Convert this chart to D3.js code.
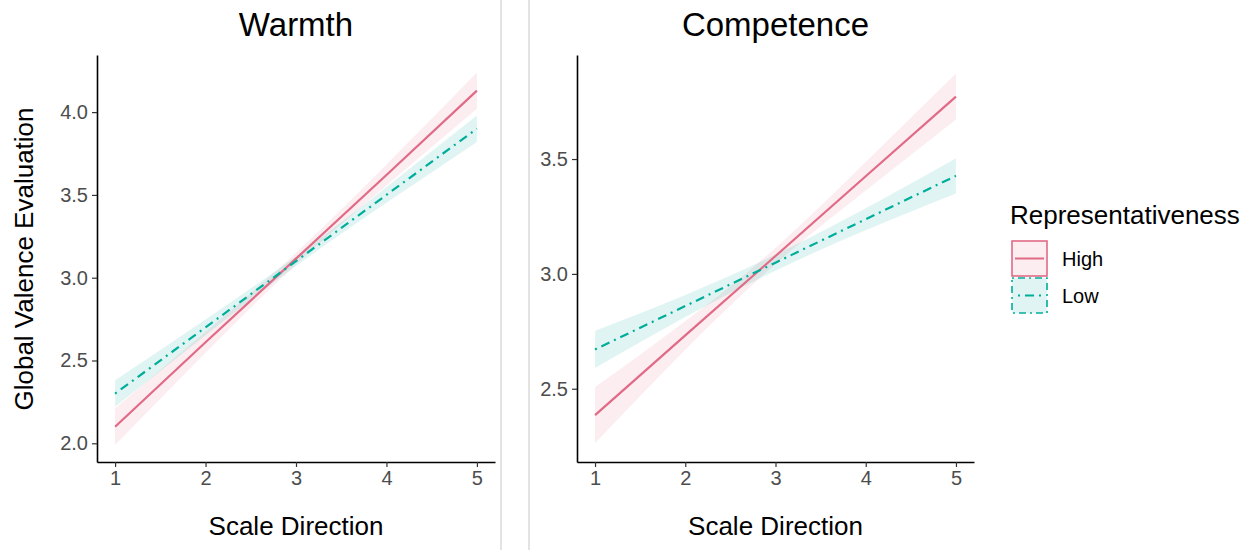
<!DOCTYPE html>
<html>
<head>
<meta charset="utf-8">
<script src="https://cdn.jsdelivr.net/npm/d3@7"></script>
<style>
  body { margin: 0; background: #fff; }
  text { font-family: "Liberation Sans", Arial, sans-serif; }
</style>
</head>
<body>
<div id="chart"></div>
<script>
// scale direction values
const xs = [1, 2, 3, 4, 5];
const groups = ["High", "Low"];
const colors = { High: "#E16A86", Low: "#00AD9A" };

// Warmth panel: fitted line and CI bands
const warmthHigh = [2.10, 2.61, 3.115, 3.62, 4.13];
const warmthHighLo = [1.99, 2.547, 3.08, 3.557, 4.02];
const warmthHighHi = [2.21, 2.673, 3.15, 3.683, 4.24];
const warmthLow = [2.30, 2.70, 3.10, 3.50, 3.90];
const warmthLowLo = [2.22, 2.652, 3.07, 3.452, 3.82];
const warmthLowHi = [2.38, 2.748, 3.13, 3.548, 3.98];

// Competence panel
const compHigh = [2.385, 2.732, 3.078, 3.425, 3.772];
const compHighLo = [2.263, 2.67, 3.043, 3.363, 3.672];
const compHighHi = [2.507, 2.794, 3.113, 3.487, 3.872];
const compLow = [2.671, 2.86, 3.049, 3.238, 3.427];
const compLowLo = [2.59, 2.812, 3.014, 3.19, 3.35];
const compLowHi = [2.752, 2.908, 3.084, 3.286, 3.504];

const warmthTicks = [2.0, 2.5, 3.0, 3.5, 4.0];
const compTicks = [2.5, 3.0, 3.5];

const W = 1242, H = 550;
const svg = d3.select("#chart").append("svg")
    .attr("width", W)
    .attr("height", H);

// grey divider lines between the two images
[501, 529].forEach(x => {
    svg.append("line")
        .attr("x1", x).attr("x2", x)
        .attr("y1", 0).attr("y2", H)
        .attr("stroke", "#c8c8c8")
        .attr("stroke-width", 1);
});

function panel(opt) {
    const x = d3.scaleLinear().domain([0.8, 5.2]).range([opt.left, opt.right]);
    const y = d3.scaleLinear().domain(opt.ydom).range([462, 55]);
    const g = svg.append("g");

    const series = [
        { key: "High", mid: opt.high, lo: opt.highLo, hi: opt.highHi },
        { key: "Low", mid: opt.low, lo: opt.lowLo, hi: opt.lowHi }
    ];

    // ribbons
    const area = d3.area()
        .x(d => x(d.x))
        .y0(d => y(d.lo))
        .y1(d => y(d.hi))
        .curve(d3.curveNatural);
    series.forEach(s => {
        const pts = xs.map((v, i) => ({ x: v, lo: s.lo[i], hi: s.hi[i] }));
        g.append("path")
            .attr("d", area(pts))
            .attr("fill", colors[s.key])
            .attr("fill-opacity", 0.12);
    });

    // fitted lines
    const line = d3.line().x(d => x(d.x)).y(d => y(d.v));
    series.forEach(s => {
        const pts = xs.map((v, i) => ({ x: v, v: s.mid[i] }));
        g.append("path")
            .attr("d", line(pts))
            .attr("fill", "none")
            .attr("stroke", colors[s.key])
            .attr("stroke-width", 2.2)
            .attr("stroke-dasharray", s.key === "Low" ? "2,5,9,5" : null);
    });

    // axes
    const xAxis = g.append("g")
        .attr("transform", "translate(0,462)")
        .call(d3.axisBottom(x).tickValues(xs).tickFormat(d3.format("d"))
            .tickSize(5).tickSizeOuter(0).tickPadding(4));
    const yAxis = g.append("g")
        .attr("transform", "translate(" + opt.left + ",0)")
        .call(d3.axisLeft(y).tickValues(opt.ticks).tickFormat(d3.format(".1f"))
            .tickSize(5).tickSizeOuter(0).tickPadding(4));
    [xAxis, yAxis].forEach(a => {
        a.select(".domain").attr("stroke", "#000").attr("stroke-width", 1.6);
        a.selectAll(".tick line").attr("stroke", "#333").attr("stroke-width", 1.2);
        a.selectAll(".tick text")
            .attr("fill", "#4d4d4d")
            .style("font-size", "20px")
            .style("font-family", "'Liberation Sans', Arial, sans-serif");
    });

    // title
    g.append("text")
        .attr("x", (opt.left + opt.right) / 2)
        .attr("y", 36)
        .attr("text-anchor", "middle")
        .style("font-size", "33px")
        .text(opt.title);

    // x label
    g.append("text")
        .attr("x", (opt.left + opt.right) / 2)
        .attr("y", 535)
        .attr("text-anchor", "middle")
        .style("font-size", "26px")
        .text("Scale Direction");
}

panel({
    title: "Warmth", left: 97, right: 495, ydom: [1.887, 4.345], ticks: warmthTicks,
    high: warmthHigh, highLo: warmthHighLo, highHi: warmthHighHi,
    low: warmthLow, lowLo: warmthLowLo, lowHi: warmthLowHi
});
panel({
    title: "Competence", left: 577, right: 974, ydom: [2.181, 3.953], ticks: compTicks,
    high: compHigh, highLo: compHighLo, highHi: compHighHi,
    low: compLow, lowLo: compLowLo, lowHi: compLowHi
});

// y label
svg.append("text")
    .attr("transform", "translate(33,259) rotate(-90)")
    .attr("text-anchor", "middle")
    .style("font-size", "26px")
    .text("Global Valence Evaluation");

// legend
const leg = svg.append("g").attr("transform", "translate(1011,0)");
leg.append("text")
    .attr("x", -1).attr("y", 224)
    .style("font-size", "26px")
    .text("Representativeness");
groups.forEach((k, i) => {
    const y0 = 241 + i * 37;
    leg.append("rect")
        .attr("x", 1).attr("y", y0)
        .attr("width", 35).attr("height", 35)
        .attr("fill", colors[k]).attr("fill-opacity", 0.12)
        .attr("stroke", colors[k]).attr("stroke-width", 1.6)
        .attr("stroke-dasharray", k === "Low" ? "2,4,7,4" : null);
    leg.append("line")
        .attr("x1", 4).attr("x2", 33)
        .attr("y1", y0 + 17.5).attr("y2", y0 + 17.5)
        .attr("stroke", colors[k]).attr("stroke-width", 2)
        .attr("stroke-dasharray", k === "Low" ? "2,5,9,5" : null)
        .attr("stroke-dashoffset", k === "Low" ? -3 : 0);
    leg.append("text")
        .attr("x", 51).attr("y", y0 + 25)
        .style("font-size", "20px")
        .text(k);
});
</script>
</body>
</html>
